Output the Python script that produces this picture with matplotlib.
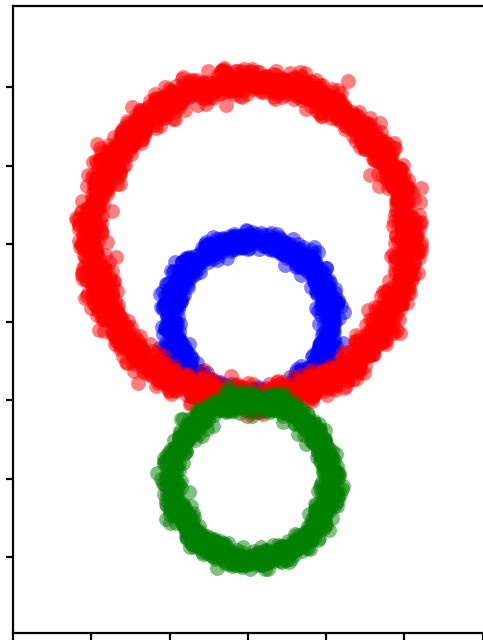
import numpy as np
from matplotlib import pyplot as plt

# ring parameters: centre, radius, radial spread, number of samples
ring_names = ["blue", "red", "green"]
ring_cx = [3.03, 3.02, 3.04]
ring_cy = [4.02, 5.05, 1.98]
ring_r = [1.03, 2.03, 1.02]
ring_spread = [0.07, 0.09, 0.07]
ring_n = [1000, 2000, 1000]
ring_colors = ["blue", "red", "green"]

rng = np.random.default_rng(7)


def noisy_ring(cx, cy, r, spread, n):
    theta = rng.uniform(0, 2 * np.pi, n)
    rad = r + rng.normal(0, spread, n)
    return cx + rad * np.cos(theta), cy + rad * np.sin(theta)


fig = plt.figure(figsize=(4.83, 6.44), dpi=100)
ax = fig.add_axes([13 / 483, 11 / 644, 520 / 483, 627.5 / 644])

for cx, cy, r, sp, n, c in zip(ring_cx, ring_cy, ring_r, ring_spread, ring_n, ring_colors):
    x, y = noisy_ring(cx, cy, r, sp, n)
    ax.scatter(x, y, s=115, c=c, alpha=0.5, linewidths=0)

px_per_unit = 78.3
ax.set_xlim(0, 520 / px_per_unit)
ax.set_ylim(1 - 76 / px_per_unit, 1 + 551.5 / px_per_unit)
ax.set_xticks(np.arange(0, 7, 1))
ax.set_yticks(np.arange(1, 8, 1))
ax.set_xticklabels([])
ax.set_yticklabels([])
for sp in ax.spines.values():
    sp.set_linewidth(1.6)
ax.tick_params(width=1.6, length=5)

plt.savefig("out.png", dpi=100)
